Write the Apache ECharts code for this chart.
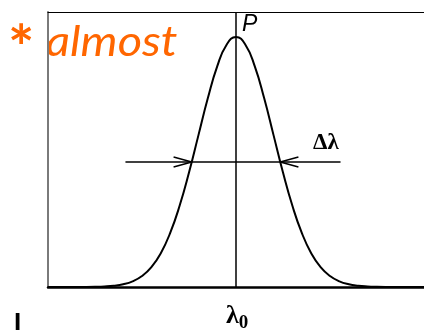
<!DOCTYPE html>
<html>
<head>
<meta charset="utf-8">
<script src="https://cdn.jsdelivr.net/npm/echarts@6/dist/echarts.min.js"></script>
<style>
  html, body { margin: 0; padding: 0; background: #fff; }
  #chart { width: 424px; height: 330px; }
</style>
</head>
<body>
<div id="chart"></div>
<script>
// Line profile: relative intensity against wavelength offset from the centre (λ0 at 0)
const wavelengthOffset = [-5, -4.5, -4, -3.75, -3.5, -3.25, -3, -2.75, -2.5, -2.25, -2, -1.75, -1.5, -1.25, -1, -0.75, -0.5, -0.25,
  0, 0.25, 0.5, 0.75, 1, 1.25, 1.5, 1.75, 2, 2.25, 2.5, 2.75, 3, 3.25, 3.5, 3.75, 4, 4.5, 5];
const intensity = [0, 0, 0.0003, 0.0009, 0.0022, 0.0051, 0.0111, 0.0228, 0.0439, 0.0796, 0.1353, 0.2163, 0.3247, 0.4578, 0.6065, 0.7548, 0.8825, 0.9692,
  1, 0.9692, 0.8825, 0.7548, 0.6065, 0.4578, 0.3247, 0.2163, 0.1353, 0.0796, 0.0439, 0.0228, 0.0111, 0.0051, 0.0022, 0.0009, 0.0003, 0, 0];

// Width marker at half maximum
const halfLevel = 0.5;
const widthLine = [[-2.94, halfLevel], [2.78, halfLevel]];
const leftArrowHead = [[-1.66, 0.52], [-1.177, halfLevel], [-1.66, 0.48]];
const rightArrowHead = [[1.66, 0.52], [1.177, halfLevel], [1.66, 0.48]];
const centreValue = 0;

const chart = echarts.init(document.getElementById('chart'), null, { renderer: 'canvas' });

const blackLine = { color: '#000', width: 1.5 };

chart.setOption({
  animation: false,
  backgroundColor: '#fff',
  grid: { left: 48, top: 12, width: 378, height: 275 },
  xAxis: [
    {
      type: 'value', min: -5, max: 5,
      axisLine: { show: true, onZero: false, lineStyle: { color: '#000', width: 2.5 } },
      axisTick: { show: false }, axisLabel: { show: false }, splitLine: { show: false }
    },
    {
      type: 'value', min: -5, max: 5, position: 'top',
      axisLine: { show: true, onZero: false, lineStyle: { color: '#000', width: 1.2 } },
      axisTick: { show: false }, axisLabel: { show: false }, splitLine: { show: false }
    }
  ],
  yAxis: {
    type: 'value', min: 0, max: 1.1,
    axisLine: { show: true, onZero: false, lineStyle: { color: '#7a7a7a', width: 2 } },
    axisTick: { show: false }, axisLabel: { show: false }, splitLine: { show: false }
  },
  series: [
    {
      type: 'line', smooth: true, symbol: 'none', silent: true,
      data: wavelengthOffset.map((x, i) => [x, intensity[i]]),
      lineStyle: { color: '#000', width: 2 },
      markLine: {
        silent: true, symbol: ['none', 'none'], label: { show: false },
        lineStyle: { color: '#000', width: 1.5, type: 'solid' },
        data: [{ xAxis: centreValue }]
      }
    },
    { type: 'line', symbol: 'none', silent: true, data: widthLine, lineStyle: blackLine },
    { type: 'line', symbol: 'none', silent: true, data: leftArrowHead, lineStyle: blackLine },
    { type: 'line', symbol: 'none', silent: true, data: rightArrowHead, lineStyle: blackLine }
  ],
  graphic: [
    {
      type: 'text', left: 8, top: 19,
      style: { text: '*', fill: '#ff6600', font: 'bold 62px Lato' }
    },
    {
      type: 'text', x: 46, y: 21, scaleX: 1.12,
      style: { text: 'almost', fill: '#ff6600', font: 'italic 42px Lato' }
    },
    {
      type: 'text', left: 242, top: 13,
      style: { text: 'P', fill: '#000', font: 'italic 23px "Liberation Sans"' }
    },
    {
      type: 'text', left: 313, top: 132,
      style: { text: 'Δλ', fill: '#000', font: 'bold 23px "Liberation Serif"' }
    },
    {
      type: 'text', left: 226, top: 303,
      style: {
        text: '{a|λ}{b|0}',
        rich: {
          a: { font: 'bold 26px "Liberation Serif"', fill: '#000' },
          b: { font: 'bold 19px "Liberation Serif"', fill: '#000', padding: [14, 0, 0, 0] }
        }
      }
    },
    {
      type: 'text', left: 14, top: 311,
      style: { text: 'I', fill: '#000', font: 'bold 26px "Liberation Sans"' }
    }
  ]
});
</script>
</body>
</html>
